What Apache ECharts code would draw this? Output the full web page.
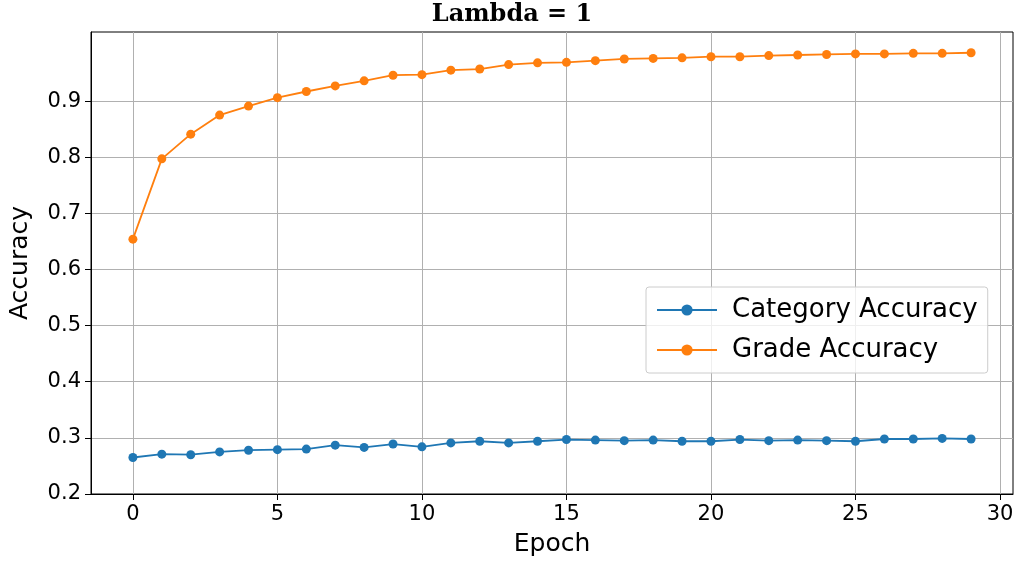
<!DOCTYPE html>
<html><head><meta charset="utf-8">
<script src="https://cdn.jsdelivr.net/npm/echarts@6/dist/echarts.min.js"></script>
<style>body{margin:0}#c{width:1024px;height:562px}</style></head>
<body><div id="c"></div>
<script>
const epochs = Array.from({length: 30}, (_, i) => i);
const categoryAcc = [0.265,0.271,0.270,0.275,0.278,0.279,0.280,0.287,0.283,0.289,0.284,0.291,0.294,0.291,0.294,0.297,0.296,0.295,0.296,0.294,0.294,0.297,0.295,0.296,0.295,0.294,0.298,0.298,0.299,0.298];
const gradeAcc = [0.654,0.797,0.841,0.875,0.891,0.906,0.917,0.927,0.936,0.946,0.947,0.955,0.957,0.965,0.968,0.969,0.972,0.975,0.976,0.977,0.979,0.979,0.981,0.982,0.983,0.984,0.984,0.985,0.985,0.986];
const xTicks = [0,5,10,15,20,25,30];
const yTicks = [0.2,0.3,0.4,0.5,0.6,0.7,0.8,0.9];

const chart = echarts.init(document.getElementById('c'));
const font = 'DejaVu Sans';
const mk = (name, data, color) => ({
  name, type: 'line', data: epochs.map((e, i) => [e, data[i]]),
  symbol: 'circle', symbolSize: 9, itemStyle: {color},
  lineStyle: {color, width: 1.8}, animation: false
});
chart.setOption({
  title: {text: 'Lambda = 1', left: 'center', top: -2,
    textStyle: {fontFamily: 'DejaVu Serif', fontWeight: 'bold', fontSize: 24, color: '#000'}},
  grid: {left: 87, right: 11, top: 32, bottom: 68, show: true, borderColor: '#000', borderWidth: 1},
  legend: {orient: 'vertical', left: 646, top: 287, padding: [10, 10, 10, 10],
    itemGap: 14, itemWidth: 60, itemHeight: 14,
    borderColor: '#ccc', borderWidth: 1, borderRadius: 3, backgroundColor: 'rgba(255,255,255,0.8)',
    textStyle: {fontFamily: font, fontSize: 26, color: '#000', padding: [0, 0, 0, 10]}},
  xAxis: {type: 'value', min: -1.45, max: 30.45, name: 'Epoch', nameLocation: 'middle', nameGap: 38,
    nameTextStyle: {fontFamily: font, fontSize: 25, color: '#000'},
    axisLine: {onZero: false, lineStyle: {color: '#000'}},
    axisTick: {customValues: xTicks, length: 6, lineStyle: {color: '#000'}},
    axisLabel: {customValues: xTicks, fontFamily: font, fontSize: 21, color: '#000', margin: 10},
    splitLine: {show: true, lineStyle: {color: '#b0b0b0', width: 1}}},
  yAxis: {type: 'value', min: 0.2, max: 1.023, name: 'Accuracy', nameLocation: 'middle', nameGap: 58,
    nameTextStyle: {fontFamily: font, fontSize: 25, color: '#000'},
    axisLine: {show: true, onZero: false, lineStyle: {color: '#000'}},
    axisTick: {show: true, customValues: yTicks, length: 6, lineStyle: {color: '#000'}},
    axisLabel: {customValues: yTicks, fontFamily: font, fontSize: 21, color: '#000', margin: 10,
      formatter: v => v.toFixed(1)},
    splitLine: {show: true, lineStyle: {color: '#b0b0b0', width: 1}}},
  series: [mk('Category Accuracy', categoryAcc, '#1f77b4'), mk('Grade Accuracy', gradeAcc, '#ff7f0e')]
});
</script></body></html>
